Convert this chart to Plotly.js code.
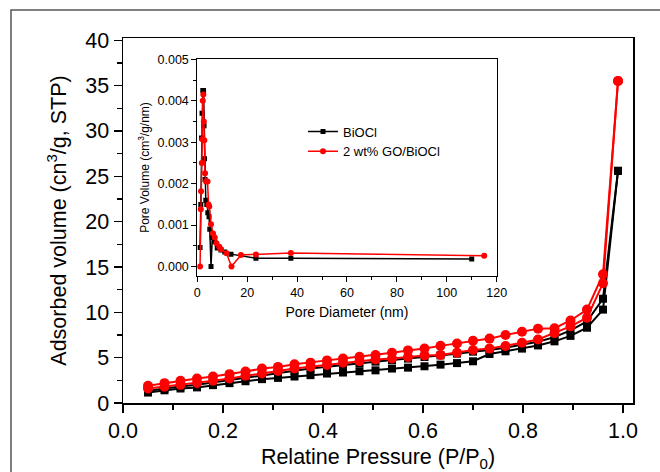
<!DOCTYPE html>
<html><head><meta charset="utf-8">
<script src="https://cdn.plot.ly/plotly-3.0.1.min.js"></script>
<style>html,body{margin:0;padding:0;background:#fff}</style>
</head><body><div id="chart" style="width:660px;height:472px"></div>
<script>
// Main isotherm: relative pressure P/P0
const pressure = [0.05,0.083,0.115,0.148,0.18,0.213,0.245,0.278,0.31,0.343,0.375,0.408,0.44,0.473,0.505,0.538,0.57,0.603,0.635,0.668,0.70,0.733,0.765,0.798,0.83,0.863,0.895,0.928,0.96,0.99];
// BiOCl adsorption / desorption (cm3/g STP)
const biociAds = [1.15,1.4,1.6,1.72,1.97,2.19,2.4,2.63,2.77,2.92,3.07,3.25,3.36,3.5,3.6,3.8,3.9,4.05,4.23,4.4,4.6,5.4,5.7,6.0,6.35,6.8,7.4,8.3,10.3,25.6];
const biociDes = [1.35,1.6,1.82,2.0,2.26,2.52,2.8,3.07,3.36,3.55,3.8,4.0,4.2,4.38,4.56,4.74,4.9,5.07,5.25,5.44,5.66,5.84,6.1,6.4,6.75,7.26,8.0,9.0,11.5,25.6];
// 2 wt% GO/BiOCl adsorption / desorption
const goAds = [1.6,1.8,2.0,2.2,2.45,2.7,3.0,3.25,3.54,3.8,4.0,4.2,4.45,4.6,4.8,4.9,5.07,5.25,5.3,5.55,5.84,6.0,6.28,6.64,7.0,7.7,8.45,9.4,13.2,35.5];
const goDes = [1.9,2.19,2.45,2.7,2.92,3.18,3.47,3.8,3.98,4.27,4.45,4.7,4.9,5.1,5.3,5.55,5.8,6.0,6.3,6.57,6.86,7.1,7.5,7.85,8.2,8.25,9.1,10.3,14.2,35.5];

// Inset: pore size distribution
const poreDiaBiOCl = [1.1,1.4,1.7,1.9,2.2,2.5,2.7,2.9,3.1,3.4,3.8,4.2,4.7,5.0,5.5,6.0,7.0,8.0,9.5,11,13.5,23.5,37.5,110];
const poreVolBiOCl = [0.00046,0.0015,0.0031,0.0037,0.00425,0.00425,0.0034,0.0026,0.0021,0.0016,0.0015,0.0013,0.0012,0.0009,0.0,0.0007,0.0006,0.00045,0.0004,0.00035,0.0003,0.0002,0.0002,0.00018];
const poreDiaGO = [1.1,1.4,1.5,1.8,2.0,2.2,2.4,2.6,2.8,3.1,3.5,4.1,4.5,4.8,5.5,6.3,7.0,7.7,8.8,9.5,11.7,13.7,17.5,23.5,37.5,115];
const poreVolGO = [0.0,0.00138,0.00182,0.0025,0.00307,0.0040,0.00415,0.0035,0.00305,0.00225,0.00205,0.00205,0.0015,0.00145,0.00102,0.0008,0.0007,0.00056,0.00048,0.00042,0.00032,0.0,0.00028,0.00029,0.00033,0.00026];

const seriesNames = ['BiOCl','2 wt% GO/BiOCl'];
const BLACK = '#000000', RED = '#ff0000';
const FONT = 'Liberation Sans, Arial, sans-serif';

const mainLine = (y, color, sym, size) => ({
  x: pressure, y: y, xaxis:'x', yaxis:'y', mode:'lines+markers', showlegend:false,
  line:{color:color, width:2}, marker:{symbol:sym, size:size, color:color}
});

const traces = [
  mainLine(biociAds, BLACK, 'square', 8),
  mainLine(biociDes, BLACK, 'square', 8),
  mainLine(goAds, RED, 'circle', 10),
  mainLine(goDes, RED, 'circle', 10),
  {x: poreDiaBiOCl, y: poreVolBiOCl, xaxis:'x2', yaxis:'y2', mode:'lines+markers', name: seriesNames[0],
   line:{color:BLACK, width:1.5}, marker:{symbol:'square', size:5, color:BLACK}},
  {x: poreDiaGO, y: poreVolGO, xaxis:'x2', yaxis:'y2', mode:'lines+markers', name: seriesNames[1],
   line:{color:RED, width:1.5}, marker:{symbol:'circle', size:6, color:RED}}
];

const layout = {
  width:660, height:472,
  margin:{l:123, r:27, t:38, b:69},
  paper_bgcolor:'#fff', plot_bgcolor:'#fff',
  font:{family:FONT, color:'#000'},
  xaxis:{
    range:[0,1.02], tickvals:[0,0.2,0.4,0.6,0.8,1.0], ticktext:['0.0','0.2','0.4','0.6','0.8','1.0'],
    ticks:'outside', ticklen:8, tickwidth:1.5, tickcolor:'#000',
    minor:{ticks:'outside', ticklen:5, tickwidth:1.5, tickcolor:'#000', dtick:0.1, tick0:0},
    showline:true, linewidth:1.5, linecolor:'#000', mirror:true, showgrid:false, zeroline:false,
    tickfont:{size:21.5, family:FONT},
    title:{text:'Relatine Pressure (P/P<sub>0</sub>)', font:{size:21.5, family:FONT}, standoff:14}
  },
  yaxis:{
    range:[0,40.25], tickvals:[0,5,10,15,20,25,30,35,40],
    ticks:'outside', ticklen:8, tickwidth:1.5, tickcolor:'#000',
    minor:{ticks:'outside', ticklen:5, tickwidth:1.5, tickcolor:'#000', dtick:2.5, tick0:0},
    showline:true, linewidth:1.5, linecolor:'#000', mirror:true, showgrid:false, zeroline:false,
    tickfont:{size:21.5, family:FONT}
  },
  annotations:[
    {text:'Adsorbed volume (cn<sup>3</sup>/g, STP)', xref:'paper', yref:'paper', x:-0.131, y:0.5,
     xanchor:'center', yanchor:'middle', textangle:-90, showarrow:false, font:{size:21.5, family:FONT}}
  ],
  xaxis2:{
    domain:[0.1457,0.7327], anchor:'y2', range:[0,120], tickvals:[0,20,40,60,80,100,120],
    ticks:'outside', ticklen:5, tickwidth:1, tickcolor:'#000',
    minor:{ticks:'outside', ticklen:3, tickwidth:1, tickcolor:'#000', dtick:10, tick0:0},
    showline:true, linewidth:1, linecolor:'#000', mirror:true, showgrid:false, zeroline:false,
    tickfont:{size:12.5, family:FONT},
    title:{text:'Pore Diameter (nm)', font:{size:14, family:FONT}, standoff:8}
  },
  yaxis2:{
    domain:[0.3488,0.9416], anchor:'x2', range:[-0.00022,0.005],
    tickvals:[0,0.001,0.002,0.003,0.004,0.005], ticktext:['0.000','0.001','0.002','0.003','0.004','0.005'],
    ticks:'outside', ticklen:5, tickwidth:1, tickcolor:'#000',
    minor:{ticks:'outside', ticklen:3, tickwidth:1, tickcolor:'#000', dtick:0.0005, tick0:0},
    showline:true, linewidth:1, linecolor:'#000', mirror:true, showgrid:false, zeroline:false,
    tickfont:{size:12.5, family:FONT},
    title:{text:'Pore Volume (cm<sup>3</sup>/g/nm)', font:{size:12, family:FONT}, standoff:5}
  },
  showlegend:true,
  legend:{x:0.353, y:0.785, xanchor:'left', yanchor:'top', bgcolor:'rgba(0,0,0,0)',
    font:{size:13, family:FONT}, itemwidth:30, tracegroupgap:0},
  shapes:[
    {type:'rect', xref:'paper', yref:'paper', x0:-0.2196, x1:1.3, y0:-0.3, y1:1.0767,
     line:{color:'#555', width:1.5}, fillcolor:'rgba(0,0,0,0)', layer:'below'}
  ]
};

Plotly.newPlot('chart', traces, layout, {displayModeBar:false, staticPlot:true});
</script></body></html>
